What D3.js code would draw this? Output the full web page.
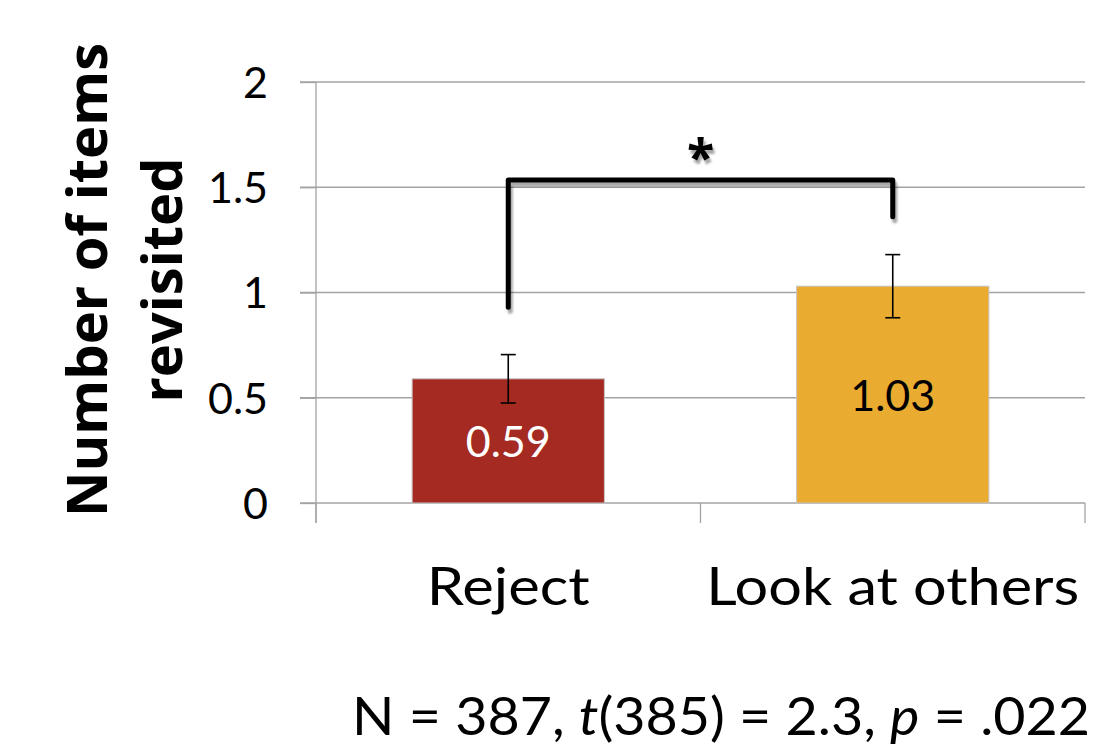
<!DOCTYPE html>
<html><head><meta charset="utf-8">
<script src="https://cdn.jsdelivr.net/npm/d3@7"></script>
<style>body{margin:0;background:#fff;} svg{display:block;}</style>
</head><body><svg id="c" width="1101" height="756"></svg>
<script>
// ---- data ----
const categories = ["Reject", "Look at others"];
const means = [0.59, 1.03];
const errLow = [0.475, 0.88];
const errHigh = [0.705, 1.18];
const valueLabels = ["0.59", "1.03"];
const yTicks = [0, 0.5, 1, 1.5, 2];
const yTickLabels = ["0", "0.5", "1", "1.5", "2"];
const barColors = ["#A52A22", "#E9AB30"];
const labelColors = ["#ffffff", "#000000"];
const bracketEnds = [0.93, 1.36];
const bracketTop = 1.535;
const starValue = 1.69;
const yTitle = ["Number of items", "revisited"];
const footParts = [
  {t: "N = 387, ", i: false}, {t: "t", i: true}, {t: "(385) = 2.3, ", i: false},
  {t: "p", i: true}, {t: " = .022", i: false}
];

const svg = d3.select("#c");
const FONT = "Lato, 'Open Sans', sans-serif";
const pLeft = 316, pRight = 1085, pTop = 82, pBottom = 503;
const catLabelWidths = [163, 373];   // layout: rendered label widths
const footWidth = 738;

const x = d3.scaleBand().domain(categories).range([pLeft, pRight]).paddingInner(0.5).paddingOuter(0.25);
const y = d3.scaleLinear().domain([0, 2]).range([pBottom, pTop]);

const defs = svg.append("defs");
const f = defs.append("filter").attr("id", "sh").attr("x", "-20%").attr("y", "-20%").attr("width", "150%").attr("height", "150%");
f.append("feDropShadow").attr("dx", 2).attr("dy", 4).attr("stdDeviation", 1.2).attr("flood-color", "#000").attr("flood-opacity", 0.35);

// gridlines
svg.append("g").selectAll("line").data(yTicks).join("line")
  .attr("x1", pLeft - 16).attr("x2", pRight)
  .attr("y1", d => y(d)).attr("y2", d => y(d))
  .attr("stroke", "#a3a3a3").attr("stroke-width", 1.3);

// y axis
const yAxis = svg.append("g").attr("transform", `translate(${pLeft},0)`)
  .call(d3.axisLeft(y).tickValues(yTicks).tickFormat((d, i) => yTickLabels[i]).tickSize(16).tickPadding(32));
yAxis.select(".domain").remove();
yAxis.selectAll(".tick line").attr("stroke", "#a3a3a3").attr("stroke-width", 1.3);
yAxis.selectAll("text").attr("font-family", FONT).attr("font-size", 43).attr("fill", "#000").attr("dy", "0.36em");
svg.append("line").attr("x1", pLeft).attr("x2", pLeft).attr("y1", y(2)).attr("y2", y(0) + 20)
  .attr("stroke", "#a3a3a3").attr("stroke-width", 1.3);

// x boundary ticks
const bounds = d3.range(categories.length + 1).map(i => pLeft + i * x.step());
svg.append("g").selectAll("line").data(bounds).join("line")
  .attr("x1", d => d).attr("x2", d => d).attr("y1", y(0)).attr("y2", y(0) + 20)
  .attr("stroke", "#a3a3a3").attr("stroke-width", 1.3);

// x axis labels
const xAxis = svg.append("g").attr("transform", `translate(0,${pBottom})`)
  .call(d3.axisBottom(x).tickSize(0).tickPadding(0));
xAxis.select(".domain").remove();
xAxis.selectAll("text").attr("dy", null).attr("y", 102)
  .attr("font-family", FONT).attr("font-size", 53).attr("fill", "#000")
  .attr("textLength", (d, i) => catLabelWidths[i]).attr("lengthAdjust", "spacingAndGlyphs");

// bars
svg.append("g").selectAll("rect").data(categories).join("rect")
  .attr("x", d => x(d)).attr("width", x.bandwidth())
  .attr("y", (d, i) => y(means[i])).attr("height", (d, i) => y(0) - y(means[i]))
  .attr("fill", (d, i) => barColors[i]).attr("stroke", "#c4c4c4").attr("stroke-width", 1);

// value labels
svg.append("g").selectAll("text").data(categories).join("text")
  .attr("x", d => x(d) + x.bandwidth() / 2)
  .attr("y", (d, i) => (y(means[i]) + y(0)) / 2)
  .attr("dy", "0.38em").attr("text-anchor", "middle")
  .attr("font-family", FONT).attr("font-size", 43)
  .attr("fill", (d, i) => labelColors[i]).text((d, i) => valueLabels[i]);

// error bars
const eb = svg.append("g").attr("stroke", "#000").attr("stroke-width", 1.6);
categories.forEach((c, i) => {
  const cx = x(c) + x.bandwidth() / 2;
  eb.append("line").attr("x1", cx).attr("x2", cx).attr("y1", y(errLow[i])).attr("y2", y(errHigh[i]));
  eb.append("line").attr("x1", cx - 7.5).attr("x2", cx + 7.5).attr("y1", y(errLow[i])).attr("y2", y(errLow[i]));
  eb.append("line").attr("x1", cx - 7.5).attr("x2", cx + 7.5).attr("y1", y(errHigh[i])).attr("y2", y(errHigh[i]));
});

// significance bracket
const cxs = categories.map(c => x(c) + x.bandwidth() / 2);
const bpath = d3.path();
bpath.moveTo(cxs[0], y(bracketEnds[0]));
bpath.lineTo(cxs[0], y(bracketTop));
bpath.lineTo(cxs[1], y(bracketTop));
bpath.lineTo(cxs[1], y(bracketEnds[1]));
svg.append("path").attr("d", bpath.toString()).attr("fill", "none")
  .attr("stroke", "#000").attr("stroke-width", 5).attr("stroke-linejoin", "round").attr("stroke-linecap", "round")
  .attr("filter", "url(#sh)");
svg.append("text").attr("x", (cxs[0] + cxs[1]) / 2).attr("y", y(starValue)).attr("dy", "0.55em")
  .attr("text-anchor", "middle").attr("font-family", "'Open Sans', sans-serif").attr("font-weight", 700)
  .attr("font-size", 50).attr("filter", "url(#sh)").text("*");

// y title
const yt = svg.append("text").attr("transform", "translate(0,280) rotate(-90)")
  .attr("text-anchor", "middle").attr("font-family", "'Open Sans', sans-serif").attr("font-weight", 700)
  .attr("font-size", 56).attr("fill", "#000");
yt.selectAll("tspan").data(yTitle).join("tspan")
  .attr("x", 0).attr("y", (d, i) => i === 0 ? 107 : 182).text(d => d);

// footnote
const fn = svg.append("text").attr("x", 721).attr("y", 735).attr("text-anchor", "middle")
  .attr("font-family", FONT).attr("font-size", 53).attr("fill", "#000")
  .attr("textLength", footWidth).attr("lengthAdjust", "spacingAndGlyphs");
fn.selectAll("tspan").data(footParts).join("tspan")
  .attr("font-style", d => d.i ? "italic" : "normal").text(d => d.t);
</script></body></html>
